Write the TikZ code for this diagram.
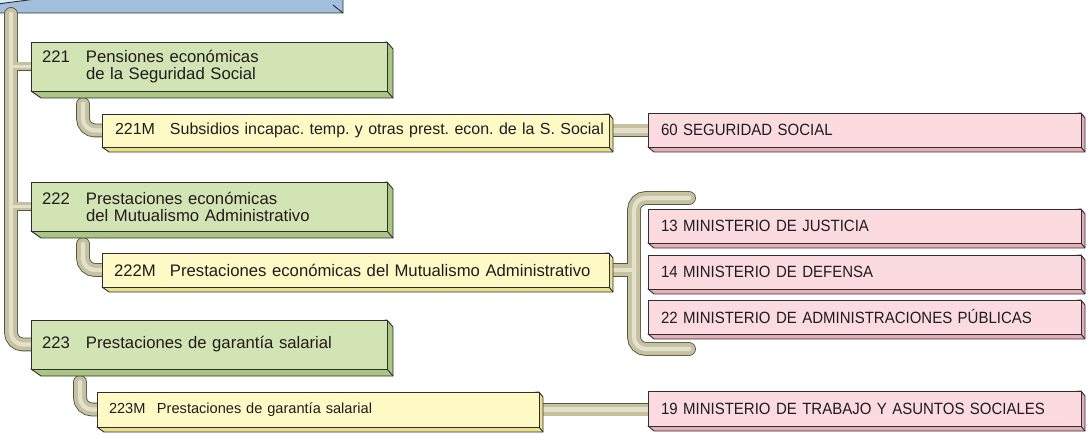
\documentclass[tikz,border=0pt]{standalone}
\usepackage{fontspec}
\setmainfont{Liberation Sans}
\newfontfamily\pinkfont[FakeStretch=0.92]{Liberation Sans}
\usetikzlibrary{calc}
\pgfdeclarelayer{bottom}\pgfdeclarelayer{pipes}\pgfdeclarelayer{bevels}
\pgfsetlayers{bottom,pipes,bevels,main}
\frenchspacing
\definecolor{boxline}{HTML}{2E2E2E}
\definecolor{gfront}{HTML}{D3E4B4}
\definecolor{gside}{HTML}{A9C683}
\definecolor{yfront}{HTML}{FFF9C6}
\definecolor{yside}{HTML}{E9E08E}
\definecolor{pfront}{HTML}{FBDAE0}
\definecolor{pside}{HTML}{E6AEB9}
\definecolor{bfront}{HTML}{D5EDFA}
\definecolor{bside}{HTML}{A2BFDD}
\definecolor{pipedark}{HTML}{55554A}
\definecolor{pipefill}{HTML}{C6C2A0}
\definecolor{pipelight}{HTML}{E3E1CC}
\definecolor{txt}{HTML}{1E1E1E}
\tikzset{
  pw/.initial=12,
  box/.style={draw=boxline, line width=0.9pt, anchor=north west, outer sep=0pt,
    inner sep=0pt, align=left, text=txt, font=\fontsize{16.7}{17}\selectfont\frenchspacing},
  gbox/.style={box, fill=gfront},
  ybox/.style={box, fill=yfront},
  pbox/.style={box, fill=pfront, font=\pinkfont\fontsize{16.3}{17}\selectfont},
  pipeout/.style={draw=pipedark, line width=\pgfkeysvalueof{/tikz/pw}+1.8, line cap=round, rounded corners=12pt},
  pipefill/.style={draw=pipefill, line width=\pgfkeysvalueof{/tikz/pw}, line cap=round, rounded corners=12pt},
  pipehl/.style={draw=pipelight, line width=0.35*\pgfkeysvalueof{/tikz/pw}, line cap=round, rounded corners=12pt},
}
\newcommand\bev[5]{%
  \fill[#5, draw=boxline, line width=0.9pt, line join=round] (#1.south west) -- ++(#4,#3)
    -- ($(#1.south east)+(#2,#3)$) -- ($(#1.north east)+(#2,#3)$) -- (#1.north east) -- cycle;
  \draw[boxline, line width=0.9pt] (#1.south east) -- ++(#2,#3);}
\newcommand\allpipes[1]{%
  \draw[#1] (trunktop) |- (g223.west);
  \draw[pw=8,#1] (trunktop |- g221.west) -- (g221.west);
  \draw[pw=8,#1] (trunktop |- g222.west) -- (g222.west);
  \draw[#1] (s221) |- (y221.west);
  \draw[#1] (s222) |- (y222.west);
  \draw[#1] (s223) |- (y223.west);
  \draw[#1] (y221.east) -- (y221.east -| p60.west);
  \draw[#1] (y222.east) -- (brx);
  \draw[#1] (brtop) -| (brx) |- (brbot);
  \draw[#1] (y223.east) -- (y223.east -| p19.west);
}
\begin{document}
\begin{tikzpicture}[x=1pt,y=-1pt]
\useasboundingbox (0,0) rectangle (1089,435);
% top (blue) box
\begin{pgfonlayer}{bottom}
\node[box, fill=bfront, minimum width=343pt, minimum height=45pt] (top) at (-10,-40) {};
\bev{top}{10}{8}{10}{bside}
\end{pgfonlayer}
% green boxes
\node[gbox, minimum width=356pt, minimum height=49pt, text width=356pt] (g221) at (31,42)
  {\hspace*{11pt}\makebox[44pt][l]{221}Pensiones económicas\\\hspace*{55pt}de la Seguridad Social};
\node[gbox, minimum width=356pt, minimum height=49pt, text width=356pt] (g222) at (31,182)
  {\hspace*{11pt}\makebox[44pt][l]{222}Prestaciones económicas\\\hspace*{55pt}del Mutualismo Administrativo};
\node[gbox, minimum width=356pt, minimum height=49pt, text width=356pt] (g223) at (31,320)
  {\hspace*{11pt}\makebox[44pt][l]{223}Prestaciones de garantía salarial};
% yellow boxes
\node[ybox, minimum width=507pt, minimum height=33pt, text width=507pt, font=\fontsize{16}{17}\selectfont\frenchspacing] (y221) at (102,114)
  {\hspace*{13pt}\makebox[55pt][l]{221M}\mbox{Subsidios incapac. temp. y otras prest. econ. de la S. Social}};
\node[ybox, minimum width=507pt, minimum height=34pt, text width=507pt] (y222) at (102,253)
  {\hspace*{12pt}\makebox[56pt][l]{222M}Prestaciones económicas del Mutualismo Administrativo};
\node[ybox, minimum width=442pt, minimum height=35pt, text width=442pt, font=\fontsize{14.6}{17}\selectfont] (y223) at (97,392)
  {\hspace*{12pt}\makebox[48pt][l]{223M}Prestaciones de garantía salarial};
% pink boxes
\node[pbox, minimum width=433pt, minimum height=34pt, text width=433pt] (p60) at (648,113) {\hspace*{13pt}60 SEGURIDAD SOCIAL};
\node[pbox, minimum width=433pt, minimum height=34pt, text width=433pt] (p13) at (648,209) {\hspace*{13pt}13 MINISTERIO DE JUSTICIA};
\node[pbox, minimum width=433pt, minimum height=34pt, text width=433pt] (p14) at (648,255) {\hspace*{13pt}14 MINISTERIO DE DEFENSA};
\node[pbox, minimum width=433pt, minimum height=34pt, text width=433pt] (p22) at (648,300) {\hspace*{13pt}22 MINISTERIO DE ADMINISTRACIONES PÚBLICAS};
\node[pbox, minimum width=433pt, minimum height=35pt, text width=433pt] (p19) at (648,391) {\hspace*{13pt}19 MINISTERIO DE TRABAJO Y ASUNTOS SOCIALES};
% bevels
\begin{pgfonlayer}{bevels}
\bev{g221}{6}{7}{10}{gside}
\bev{g222}{6}{7}{10}{gside}
\bev{g223}{6}{7}{10}{gside}
\bev{y221}{4}{5}{7}{yside}
\bev{y222}{4}{5}{7}{yside}
\bev{y223}{4}{5}{7}{yside}
\bev{p60}{4}{5}{6}{pside}
\bev{p13}{4}{5}{6}{pside}
\bev{p14}{4}{5}{6}{pside}
\bev{p22}{4}{5}{6}{pside}
\bev{p19}{4}{5}{6}{pside}
\end{pgfonlayer}
% connector end points
\coordinate (trunktop) at (11,14);
\coordinate (s221) at ($(g221.south west)+(52,13)$);
\coordinate (s222) at ($(g222.south west)+(52,13)$);
\coordinate (s223) at ($(g223.south west)+(49,13)$);
\coordinate (brx) at ($(y222.east)+(25,0)$);
\coordinate (brtop) at ($(brx)+(55,-72)$);
\coordinate (brbot) at ($(brx)+(55,79)$);
\begin{pgfonlayer}{pipes}
\allpipes{pipeout}
\allpipes{pipefill}
\allpipes{pipehl}
\end{pgfonlayer}
\end{tikzpicture}
\end{document}
